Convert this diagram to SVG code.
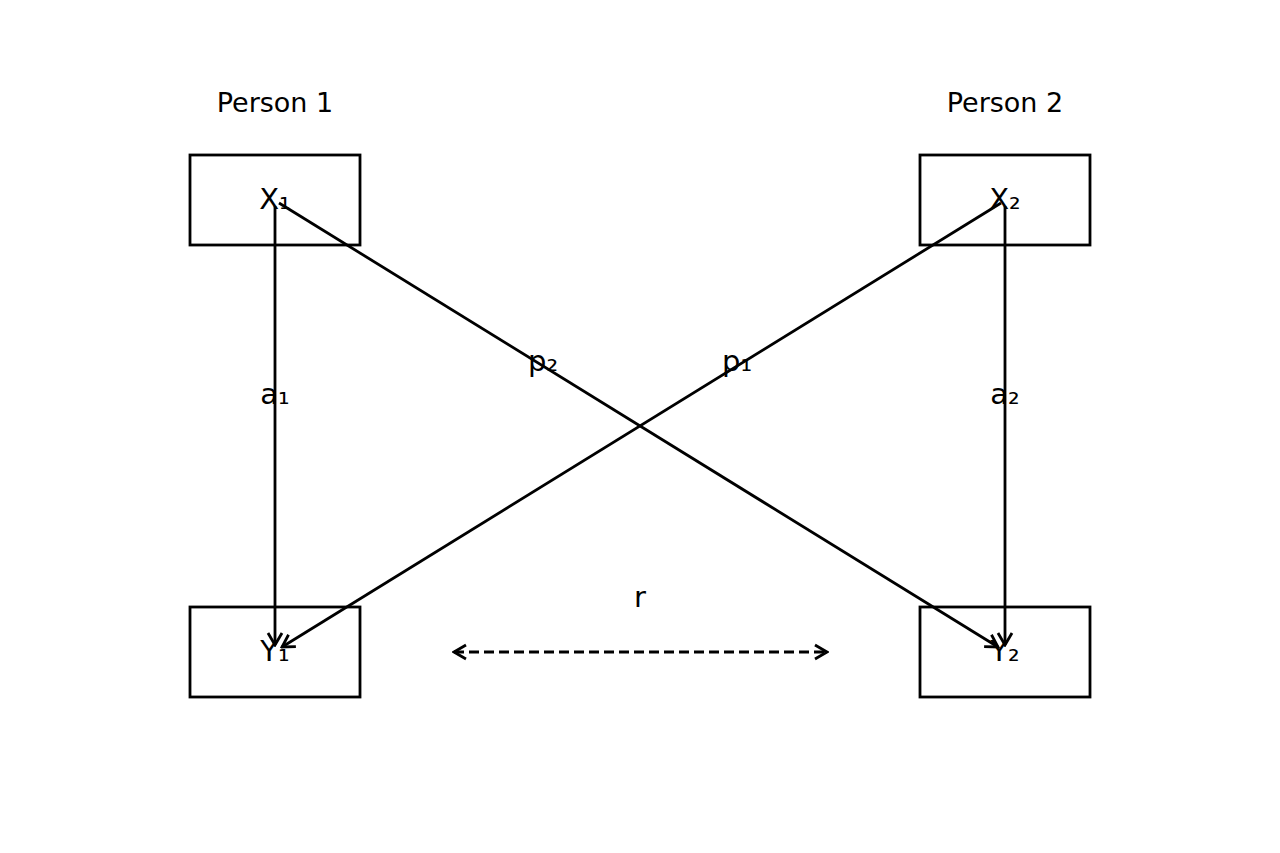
<svg xmlns="http://www.w3.org/2000/svg" width="1280" height="853" viewBox="0 0 1280 853">
<style>
.box{fill:none;stroke:#000;stroke-width:2.8}
.t{font-family:"DejaVu Sans",sans-serif;font-size:27px;fill:#000;text-anchor:middle;dominant-baseline:central}
.l{font-size:29px}
.ln{fill:none;stroke:#000;stroke-width:2.8}
.dash{stroke-dasharray:10,5}
</style>
<defs>
<marker id="head" markerUnits="userSpaceOnUse" viewBox="-14 -9 16 18" refX="0" refY="0" markerWidth="16" markerHeight="18" orient="auto-start-reverse">
<path d="M-12,-7 L0,0 L-12,7" fill="none" stroke="#000" stroke-width="2.8"/>
</marker>
</defs>
<rect width="1280" height="853" fill="#fff"/>
<g id="labels-persons">
<text class="t" x="275" y="102">Person 1</text>
<text class="t" x="1005" y="102">Person 2</text>
</g>
<g id="node-X1"><rect class="box" x="190" y="155" width="170" height="90"/><text class="t l" x="275" y="199">X₁</text></g>
<g id="node-X2"><rect class="box" x="920" y="155" width="170" height="90"/><text class="t l" x="1005" y="199">X₂</text></g>
<g id="node-Y1"><rect class="box" x="190" y="607" width="170" height="90"/><text class="t l" x="275" y="651">Y₁</text></g>
<g id="node-Y2"><rect class="box" x="920" y="607" width="170" height="90"/><text class="t l" x="1005" y="651">Y₂</text></g>
<g id="connectors">
<line class="ln" x1="275" y1="206" x2="275" y2="645" marker-end="url(#head)"/>
<line class="ln" x1="1005" y1="206" x2="1005" y2="645" marker-end="url(#head)"/>
<line class="ln" x1="279" y1="203" x2="998" y2="647" marker-end="url(#head)"/>
<line class="ln" x1="1001" y1="203" x2="282" y2="647" marker-end="url(#head)"/>
<line class="ln dash" x1="454" y1="652" x2="827" y2="652" marker-start="url(#head)" marker-end="url(#head)"/>
</g>
<g id="edge-labels">
<text class="t l" x="275" y="394">a₁</text>
<text class="t l" x="1005" y="394">a₂</text>
<text class="t l" x="543" y="361">p₂</text>
<text class="t l" x="737" y="361">p₁</text>
<text class="t l" x="640" y="597">r</text>
</g>
</svg>
